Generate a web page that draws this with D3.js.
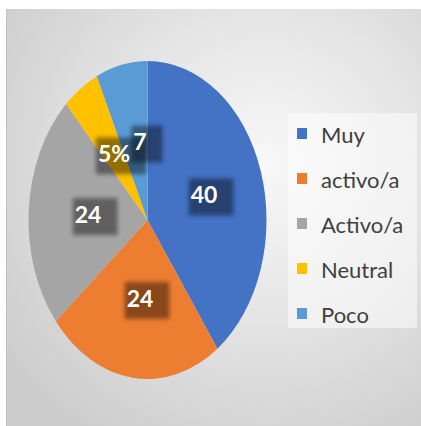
<!DOCTYPE html>
<html>
<head>
<meta charset="utf-8">
<script src="https://cdn.jsdelivr.net/npm/d3@7"></script>
<style>
  body { margin: 0; background: #fff; }
  svg { display: block; }
</style>
</head>
<body>
<svg id="chart"></svg>
<script>
// chart data
const categories = ['Muy', 'activo/a', 'Activo/a', 'Neutral', 'Poco'];
const values = [40, 24, 24, 5, 7];
const labels = ['40', '24', '24', '5%', '7'];
const colors = ['#4472C4', '#ED7D31', '#A5A5A5', '#FFC000', '#5B9BD5'];

const config = {
  width: 421,
  height: 426,
  panel: {x: 6, y: 9},
  cx: 147.5,
  cy: 220,
  rx: 119,
  ry: 159,
  legend: {x: 288, y: 113, width: 129, height: 215, rowHeight: 45}
};

const svg = d3.select('#chart')
    .attr('width', config.width)
    .attr('height', config.height);

const defs = svg.append('defs');

// radial grey background like the office chart area
const grad = defs.append('radialGradient')
    .attr('id', 'bg')
    .attr('gradientUnits', 'userSpaceOnUse')
    .attr('cx', 265).attr('cy', 165).attr('r', 320);
grad.append('stop').attr('offset', 0).attr('stop-color', '#f8f8f8');
grad.append('stop').attr('offset', 0.45).attr('stop-color', '#e6e6e6');
grad.append('stop').attr('offset', 1).attr('stop-color', '#cdcdcd');

defs.append('filter')
    .attr('id', 'blur')
    .attr('x', '-30%').attr('y', '-30%').attr('width', '160%').attr('height', '160%')
  .append('feGaussianBlur')
    .attr('stdDeviation', 2);

svg.append('rect')
    .attr('x', config.panel.x)
    .attr('y', config.panel.y)
    .attr('width', config.width - config.panel.x)
    .attr('height', config.height - config.panel.y)
    .attr('fill', 'url(#bg)');

svg.append('line')
    .attr('x1', config.panel.x + 0.5).attr('x2', config.panel.x + 0.5)
    .attr('y1', config.panel.y).attr('y2', config.height)
    .attr('stroke', '#c2c2c2');

// pie: drawn on a unit circle then stretched into an ellipse
const pie = d3.pie().sort(null).value(d => d);
const arcs = pie(values);
const R = 100;
const arc = d3.arc().innerRadius(0).outerRadius(R);
const sx = config.rx / R, sy = config.ry / R;

const pieG = svg.append('g')
    .attr('transform', `translate(${config.cx},${config.cy}) scale(${sx},${sy})`);

pieG.selectAll('path')
    .data(arcs)
  .join('path')
    .attr('d', arc)
    .attr('fill', (d, i) => colors[i]);

// data labels with the soft dark box behind them
const labelG = svg.append('g')
    .attr('transform', `translate(${config.cx},${config.cy})`);

// label anchor = centroid of the slice, stretched like the pie
const pos = arcs.map(d => {
  const c = arc.centroid(d);
  return [c[0] * sx, c[1] * sy];
});

const labelItems = labelG.selectAll('g.label')
    .data(arcs)
  .join('g')
    .attr('class', 'label');

labelItems.append('text')
    .attr('text-anchor', 'middle')
    .attr('dy', '0.35em')
    .style('font-family', 'Lato, "Open Sans", sans-serif')
    .style('font-weight', 'bold')
    .style('font-size', '23px')
    .attr('fill', '#fff')
    .text((d, i) => labels[i]);

// push labels that collide to the right of the previous one
const widths = [];
labelItems.each(function(d, i) {
  widths[i] = d3.select(this).select('text').node().getBBox().width;
});
for (let i = 1; i < pos.length; i++) {
  const prev = pos[i - 1], cur = pos[i];
  const prevRight = prev[0] + widths[i - 1] / 2;
  const curLeft = cur[0] - widths[i] / 2;
  if (Math.abs(prev[1] - cur[1]) < 20 && curLeft < prevRight + 3) {
    cur[0] += prevRight + 3 - curLeft;
  }
}
labelItems.attr('transform', (d, i) => `translate(${pos[i][0]},${pos[i][1]})`);

labelItems.each(function() {
  const g = d3.select(this);
  const bb = g.select('text').node().getBBox();
  g.insert('rect', 'text')
      .attr('x', bb.x - 2)
      .attr('y', bb.y - 2)
      .attr('width', bb.width + 18)
      .attr('height', bb.height + 9)
      .attr('fill', '#000')
      .attr('opacity', 0.42)
      .attr('filter', 'url(#blur)');
});

// boxes first, then all the label texts on top
labelG.selectAll('g.label rect').each(function() { labelG.node().insertBefore(this.parentNode, labelG.node().firstChild); });
labelItems.each(function() {
  const t = d3.select(this).select('text').node();
  labelG.node().appendChild(t);
  t.setAttribute('transform', this.getAttribute('transform'));
});

// legend
const lg = svg.append('g')
    .attr('transform', `translate(${config.legend.x},${config.legend.y})`);

lg.append('rect')
    .attr('width', config.legend.width)
    .attr('height', config.legend.height)
    .attr('fill', '#fff')
    .attr('opacity', 0.5);

const rows = lg.selectAll('g.row')
    .data(categories)
  .join('g')
    .attr('class', 'row')
    .attr('transform', (d, i) => `translate(0,${30 + i * config.legend.rowHeight})`);

rows.append('rect')
    .attr('x', 9)
    .attr('y', -15)
    .attr('width', 10)
    .attr('height', 11)
    .attr('fill', (d, i) => colors[i]);

rows.append('text')
    .attr('x', 33)
    .style('font-family', 'Lato, "Open Sans", sans-serif')
    .style('font-size', '22px')
    .attr('fill', '#404040')
    .text(d => d);
</script>
</body>
</html>
